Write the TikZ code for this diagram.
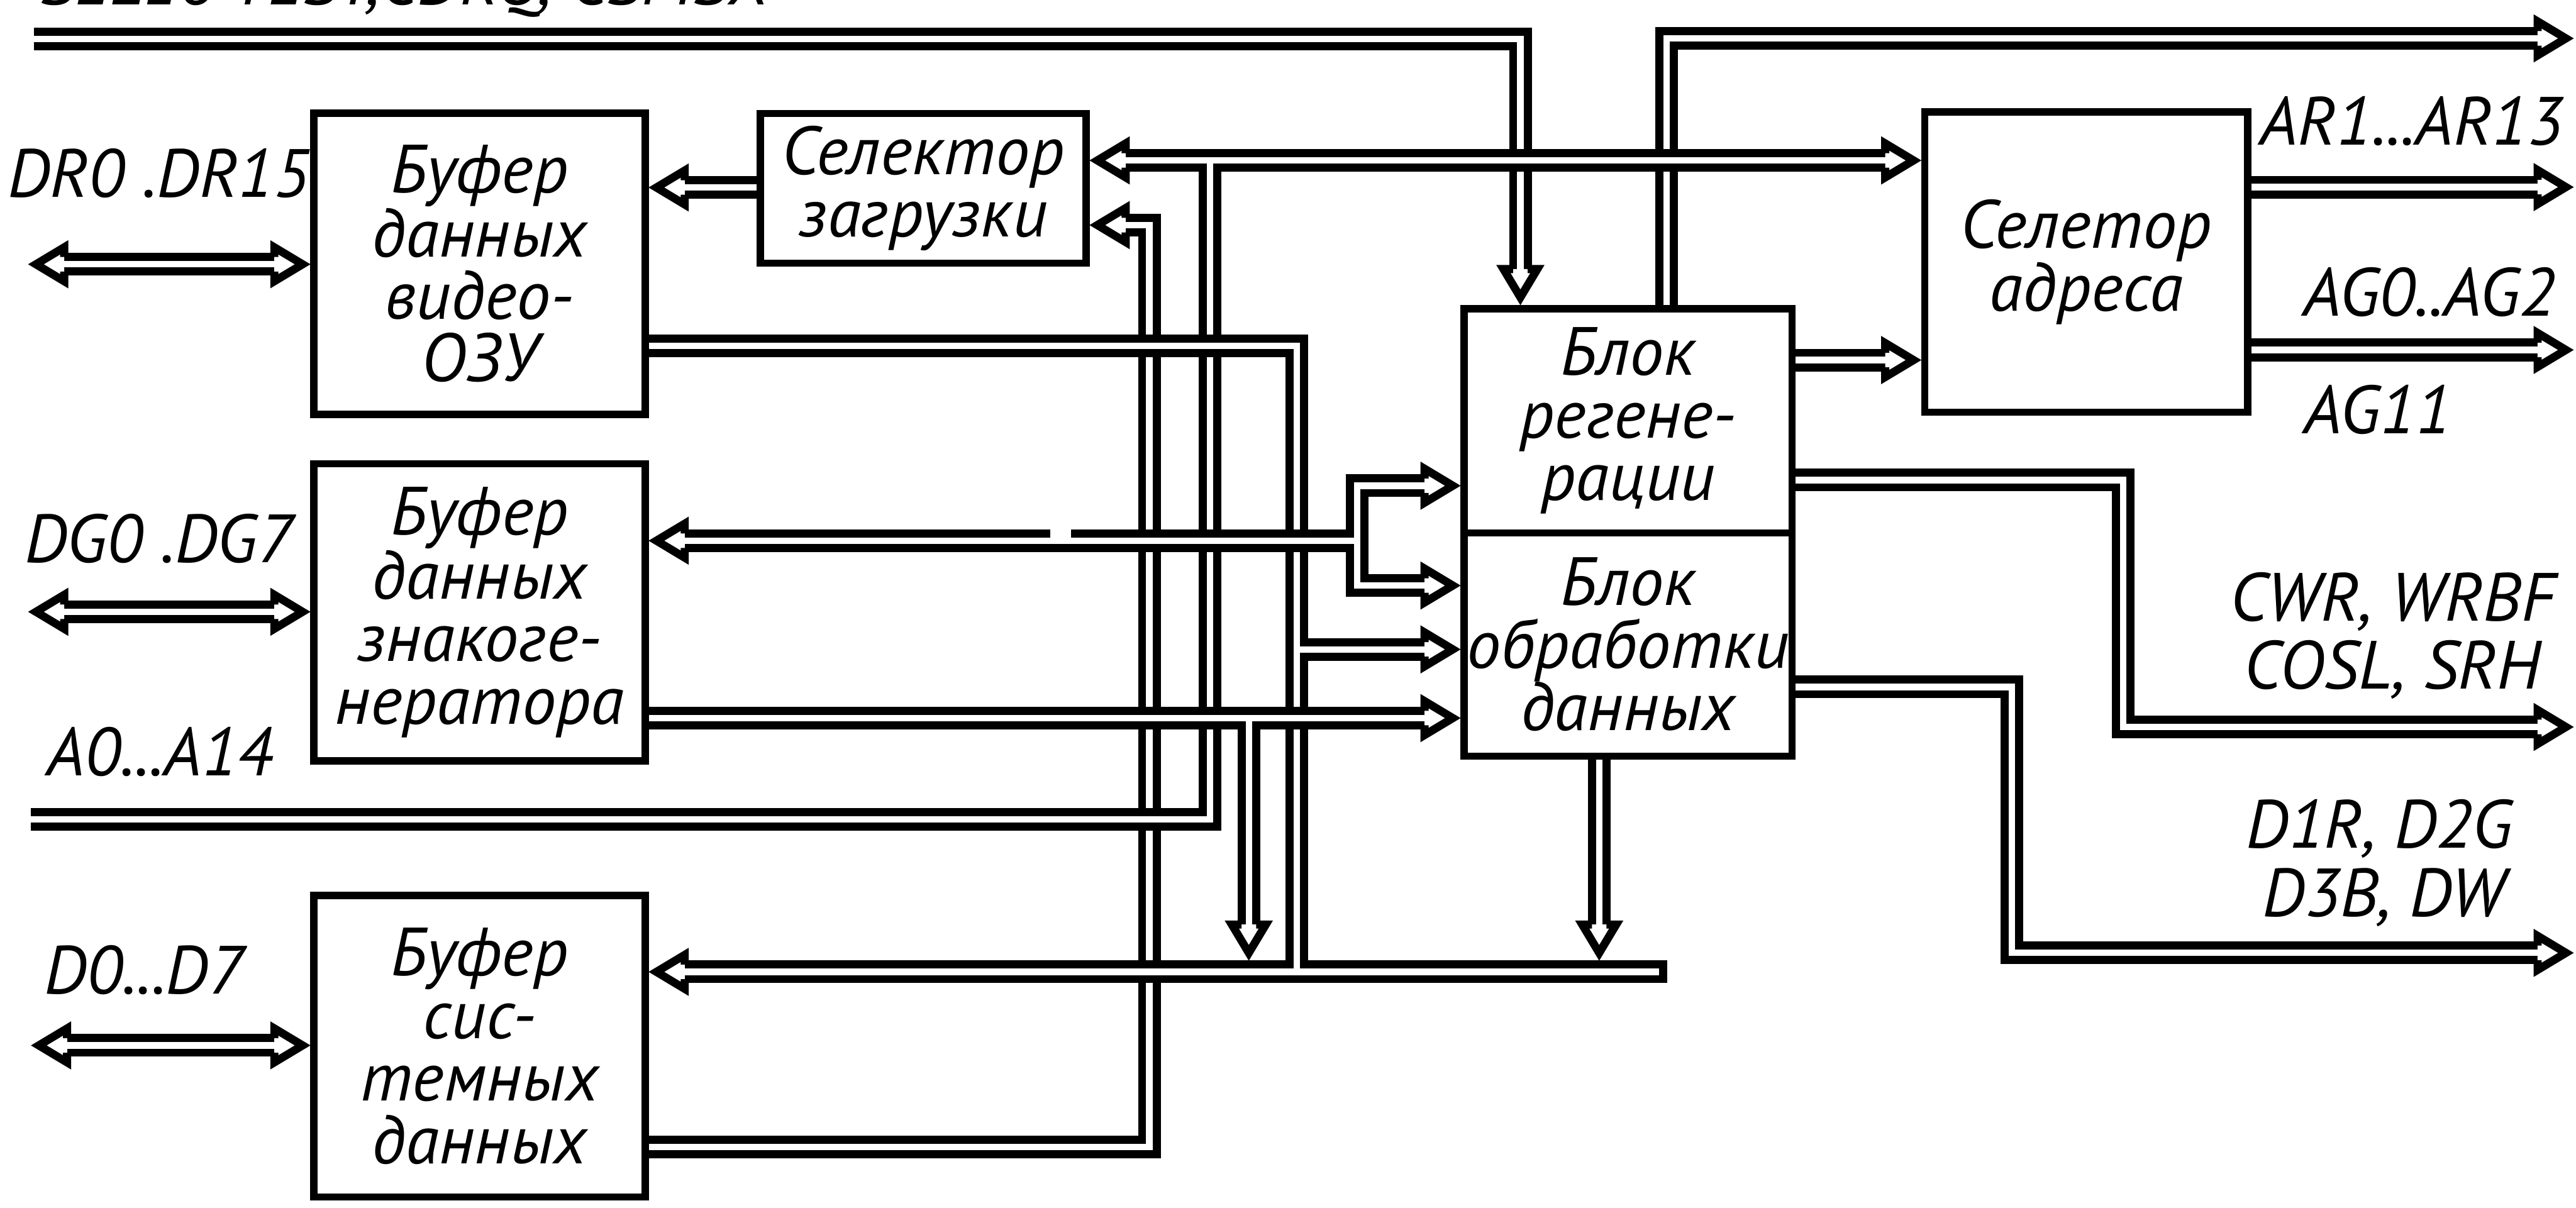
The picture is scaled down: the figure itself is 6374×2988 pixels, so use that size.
\documentclass[tikz,border=0pt]{standalone}
\usepackage{fontspec}
\setmainfont{PT Sans}
\usetikzlibrary{calc}
\newcommand\gostfont{\fontsize{48pt}{44pt}\selectfont\itshape}
\tikzset{
  box/.style={draw, line width=0.18cm, inner sep=0pt, outer sep=0pt, align=center, font=\gostfont},
  bus/.style={draw, double, line width=0.2cm, double distance=0.16cm, line join=miter, line cap=butt},
  lbl/.style={inner sep=0pt, outer sep=0pt, font=\gostfont, anchor=base},
  headpath/.style={draw, line width=0.2cm, fill=white, line join=miter, line cap=square},
  headR/.pic={\path[headpath] (-98,18) -- (-98,42) -- (-28,0) -- (-98,-42) -- (-98,-18);},
  headL/.pic={\path[headpath] (98,18) -- (98,42) -- (28,0) -- (98,-42) -- (98,-18);},
  headD/.pic={\path[headpath] (18,-98) -- (42,-98) -- (0,-28) -- (-42,-98) -- (-18,-98);},
  headU/.pic={\path[headpath] (18,98) -- (42,98) -- (0,28) -- (-42,98) -- (-18,98);},
}
\begin{document}
\begin{tikzpicture}[x=0.01cm,y=-0.01cm]
\fill[white] (0,0) rectangle (6374,2988);
\useasboundingbox (0,0) rectangle (6374,2988);

% boxes
\node[box, minimum width=8.19cm, minimum height=7.45cm] (b1) at (1186.5,652.5) {Буфер\\данных\\видео-\\ОЗУ};
\node[box, minimum width=8.19cm, minimum height=7.35cm] (b2) at (1186.5,1515.5) {Буфер\\данных\\знакоге-\\нератора};
\node[box, minimum width=8.19cm, minimum height=7.46cm] (b3) at (1186.5,2589) {Буфер\\сис-\\темных\\данных};
\node[box, minimum width=8.05cm, minimum height=3.70cm] (s1) at (2284.5,466) {Селектор\\загрузки};
\node[box, minimum width=8.11cm, minimum height=5.55cm] (r1) at (4028.5,1041.5) {Блок\\регене-\\рации};
\node[box, minimum width=8.11cm, minimum height=5.52cm] (r2) at (4028.5,1595) {Блок\\обработки\\данных};
\node[box, minimum width=7.98cm, minimum height=7.43cm] (s2) at (5162,648.5) {Селетор\\адреса};

% labels
\node[lbl] (ltop) at (1000,11) {SEL16 TEST,CDRQ, CSMSX};
\node[lbl] (lDR) at (392,488) {DR0 .DR15};
\node[lbl] (lDG) at (393,1392) {DG0 .DG7};
\node[lbl] (lA) at (396,1919) {A0...A14};
\node[lbl] (lD) at (357,2459) {D0...D7};
\node[lbl] (lAR) at (5967,358) {AR1...AR13};
\node[lbl] (lAG) at (6011,782) {AG0..AG2};
\node[lbl] (lAG11) at (5883,1073) {AG11};
\node[lbl] (lC1) at (5920,1536) {CWR, WRBF};
\node[lbl] (lC2) at (5920,1705) {COSL, SRH};
\node[lbl] (lD1) at (5887,2098) {D1R, D2G};
\node[lbl] (lD2) at (5898,2268) {D3B, DW};

% top-left bus down to regeneration block
\coordinate (tl) at (84,96);
\draw[bus] (tl) -- (3762,96) -- ($(3762,0 |- r1.north)+(0,-98)$);
\pic at (3762,0 |- r1.north) {headD};
% top-right bus out
\coordinate (tr) at (6377,95);
\draw[bus] ($(4124,0 |- r1.north)+(0,-9)$) -- (4124,95) -- ($(tr)+(-98,0)$);
\pic at (tr) {headR};
% selector bus
\draw[bus] ($(s1.east |- 0,397)+(98,0)$) -- ($(s2.west |- 0,397)+(-98,0)$);
\pic at (s1.east |- 0,397) {headL};
\pic at (s2.west |- 0,397) {headR};

% system data buffer output up to selector
\draw[bus] ($(b3.east |- 0,2838)+(9,0)$) -- (2844,2838) -- (2844,557) -- ($(s1.east |- 0,557)+(98,0)$);
\pic at (s1.east |- 0,557) {headL};
% A0..A14
\coordinate (la) at (77,2028);
\draw[bus] (la) -- (2994,2028) -- (2994,405);
% bottom data bus
\draw[bus] (4115,2405) -- ($(b3.east |- 0,2405)+(98,0)$);
\draw[line width=0.2cm] (4115,2377) -- (4115,2433);
\pic at (b3.east |- 0,2405) {headL};
% video RAM buffer output
\draw[bus] ($(b1.east |- 0,856)+(9,0)$) -- (3209,856) -- (3209,2397);
\draw[bus] (3217,1607) -- ($(r2.west |- 0,1607)+(-98,0)$);
\pic at (r2.west |- 0,1607) {headR};
% chargen input fork
\draw[bus] ($(r1.west |- 0,1202)+(-98,0)$) -- (3358,1202) -- (3358,1449) -- ($(r2.west |- 0,1449)+(-98,0)$);
\pic at (r1.west |- 0,1202) {headR};
\pic at (r2.west |- 0,1449) {headR};
\draw[bus] (3350,1338) -- ($(b2.east |- 0,1338)+(98,0)$);
\pic at (b2.east |- 0,1338) {headL};
\fill[white] (2598,1308) rectangle (2650,1332);
% chargen output
\draw[bus] ($(b2.east |- 0,1777)+(9,0)$) -- ($(r2.west |- 0,1777)+(-98,0)$);
\pic at (r2.west |- 0,1777) {headR};
\draw[bus] (3090,1785) -- (3090,2288);
\pic at (3090,2386) {headD};
% processing block down to bottom bus
\draw[bus] ($(3957,0 |- r2.south)+(0,9)$) -- (3957,2288);
\pic at (3957,2386) {headD};
% regeneration -> address selector
\draw[bus] ($(r1.east |- 0,891)+(9,0)$) -- ($(s2.west |- 0,891)+(-98,0)$);
\pic at (s2.west |- 0,891) {headR};
% address selector outputs
\draw[bus] ($(s2.east |- 0,463)+(9,0)$) -- (6279,463);
\pic at (6377,463) {headR};
\draw[bus] ($(s2.east |- 0,866)+(9,0)$) -- (6279,866);
\pic at (6377,866) {headR};
% block outputs
\draw[bus] ($(r1.east |- 0,1188)+(9,0)$) -- (5253,1188) -- (5253,1799) -- (6279,1799);
\pic at (6377,1799) {headR};
\draw[bus] ($(r2.east |- 0,1700)+(9,0)$) -- (4978,1700) -- (4978,2358) -- (6279,2358);
\pic at (6377,2358) {headR};
% load selector -> video buffer
\draw[bus] ($(s1.west |- 0,464)+(-9,0)$) -- ($(b1.east |- 0,464)+(98,0)$);
\pic at (b1.east |- 0,464) {headL};
% bidirectional external buses
\draw[bus] (159,654) -- ($(b1.west |- 0,654)+(-98,0)$);
\pic at (61,654) {headL};
\pic at (b1.west |- 0,654) {headR};
\draw[bus] (159,1514) -- ($(b2.west |- 0,1514)+(-98,0)$);
\pic at (61,1514) {headL};
\pic at (b2.west |- 0,1514) {headR};
\draw[bus] (166,2587) -- ($(b3.west |- 0,2587)+(-98,0)$);
\pic at (68,2587) {headL};
\pic at (b3.west |- 0,2587) {headR};
\end{tikzpicture}
\end{document}
